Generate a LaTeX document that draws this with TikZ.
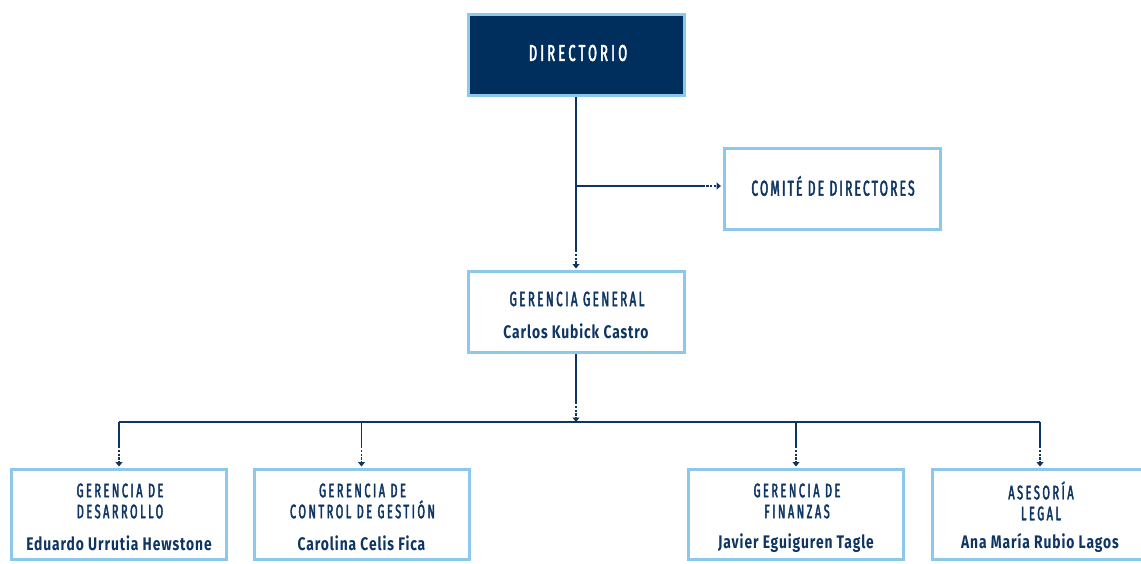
\documentclass[tikz,border=0pt]{standalone}
\usepackage{fontspec}
\setmainfont{Fira Sans}
\newfontfamily\titlef[FakeStretch=0.56,LetterSpace=13,FakeBold=2.2]{Fira Sans}
\newfontfamily\ggf[FakeStretch=0.56,LetterSpace=12,FakeBold=2.2]{Fira Sans}
\newfontfamily\dirf[FakeStretch=0.56,LetterSpace=14,FakeBold=2.2]{Fira Sans}
\newfontfamily\comf[FakeStretch=0.56,LetterSpace=10,FakeBold=2.2]{Fira Sans}
\newfontfamily\namef[FakeStretch=0.76,LetterSpace=5]{Fira Sans}
\usetikzlibrary{arrows.meta,calc}
\definecolor{navy}{HTML}{0E3563}
\definecolor{sky}{HTML}{8DC8EC}
\definecolor{dirfill}{HTML}{002E5D}
\begin{document}
\begin{tikzpicture}[x=1pt,y=-1pt,
  box/.style={draw=sky,line width=3pt,minimum width=216pt,minimum height=81pt,inner sep=0pt,fill=white},
  lowbox/.style={box,minimum width=215pt,minimum height=90pt},
  ttl/.style={text=navy,font=\titlef\fontsize{19.5}{21}\selectfont,align=center,inner sep=0pt},
  nm/.style={text=navy,font=\namef\bfseries\fontsize{18.2}{20}\selectfont,inner sep=0pt},
  conn/.style={navy,line width=1.4pt},
  dots/.style={navy,line width=1.6pt,dash pattern=on 2.2pt off 1.6pt,-{Triangle[length=4.5pt,width=7pt]}}]
\clip (0,0) rectangle (1141,563);
% boxes
\node[box,fill=dirfill] (dir) at (576,55) {};
\node[box] (com) at (832,188.5) {};
\node[box] (gg) at (576,312) {};
\node[lowbox] (des) at (119,514.5) {};
\node[lowbox] (ctl) at (361.5,514.5) {};
\node[lowbox] (fin) at (796,514.5) {};
\node[lowbox] (leg) at (1040,514.5) {};
% texts
\node[ttl,text=white,font=\dirf\fontsize{23}{25}\selectfont] (tdir) at (578,53) {DIRECTORIO};
\node[ttl,font=\comf\fontsize{21.5}{23}\selectfont] (tcom) at (833,186) {COMITÉ DE DIRECTORES};
\node[ttl,font=\ggf\fontsize{20.5}{22}\selectfont] (tgg) at (577,299) {GERENCIA GENERAL};
\node[nm] (ngg) at (576,331) {Carlos Kubick Castro};
\node[ttl] (tdes) at (120,501) {GERENCIA DE\\DESARROLLO};
\node[nm] (ndes) at (119,543) {Eduardo Urrutia Hewstone};
\node[ttl] (tctl) at (362.5,501) {GERENCIA DE\\CONTROL DE GESTIÓN};
\node[nm] (nctl) at (361.5,543) {Carolina Celis Fica};
\node[ttl] (tfin) at (797,501) {GERENCIA DE\\FINANZAS};
\node[nm] (nfin) at (796,543) {Javier Eguiguren Tagle};
\node[ttl] (tleg) at (1041,501) {ASESORÍA\\LEGAL};
\node[nm] (nleg) at (1040,543) {Ana María Rubio Lagos};
% connectors
\coordinate (j1) at (576,186);
\coordinate (bus) at (576,422);
\draw[conn] (dir.south) -- ($(gg.north)+(0,-20)$);
\draw[dots] ($(gg.north)+(0,-20)$) -- ($(gg.north)+(0,-1.5)$);
\draw[conn] (j1) -- ($(com.west)+(-20,-2.5)$);
\draw[dots] ($(com.west)+(-20,-2.5)$) -- ($(com.west)+(-1.5,-2.5)$);
\draw[conn] (gg.south) -- ($(bus)+(0,-20)$);
\draw[dots] ($(bus)+(0,-20)$) -- (bus);
\draw[conn] (des.north |- bus) -- (leg.north |- bus);
\foreach \b in {des,ctl,fin,leg}{
  \draw[conn] (\b.north |- bus) -- ($(\b.north)+(0,-22)$);
  \draw[dots] ($(\b.north)+(0,-22)$) -- ($(\b.north)+(0,-1.5)$);
}
\end{tikzpicture}
\end{document}
